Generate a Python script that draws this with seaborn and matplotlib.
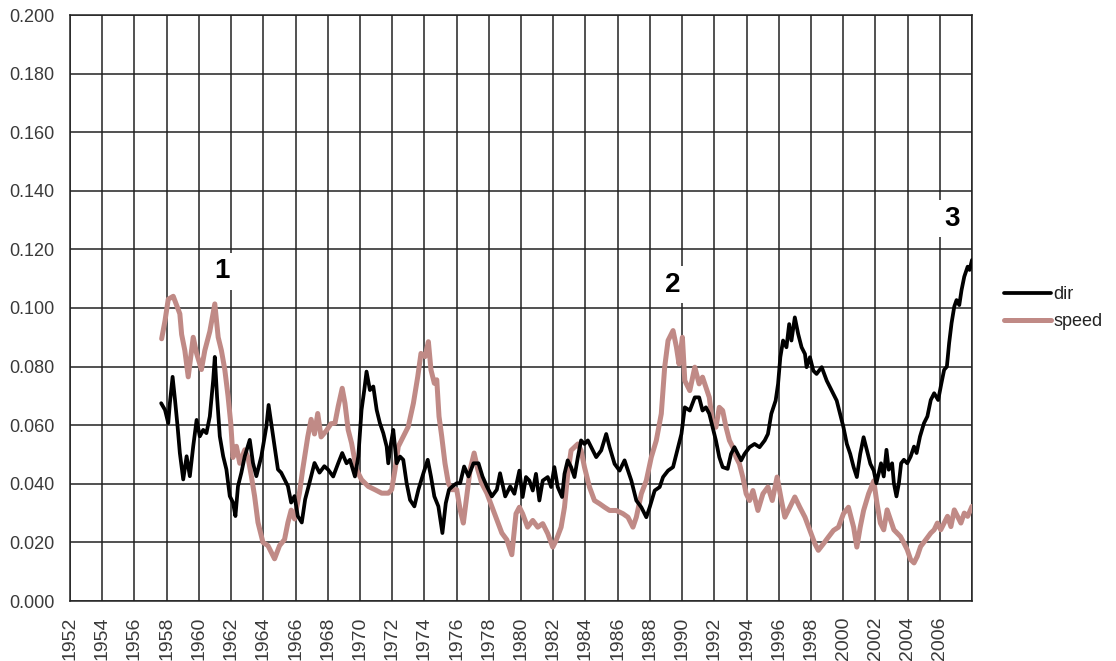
import matplotlib
matplotlib.use("Agg")
import matplotlib.pyplot as plt
import seaborn as sns
import pandas as pd

# dir series (year, value)
dir_years = [
    1957.66, 1957.9, 1958.1, 1958.2, 1958.37, 1958.52, 1958.68, 1958.82, 1959.03, 1959.24,
    1959.44, 1959.65, 1959.86, 1960.06, 1960.27, 1960.47, 1960.68, 1960.89, 1960.99, 1961.13,
    1961.3, 1961.51, 1961.71, 1961.92, 1962.12, 1962.27, 1962.43, 1962.64, 1962.85, 1963.16,
    1963.36, 1963.57, 1963.88, 1964.19, 1964.33, 1964.49, 1964.7, 1964.91, 1965.11, 1965.32,
    1965.53, 1965.73, 1965.94, 1966.14, 1966.39, 1966.6, 1966.87, 1967.18, 1967.49, 1967.79,
    1968.03, 1968.34, 1968.65, 1968.9, 1969.17, 1969.38, 1969.69, 1969.9, 1970.1, 1970.27,
    1970.41, 1970.62, 1970.83, 1971.04, 1971.24, 1971.45, 1971.66, 1971.76, 1971.93, 1972.07,
    1972.28, 1972.49, 1972.69, 1972.9, 1973.11, 1973.38, 1973.63, 1973.94, 1974.21, 1974.41,
    1974.62, 1974.87, 1975.12, 1975.33, 1975.53, 1975.74, 1976.01, 1976.22, 1976.47, 1976.74,
    1977.05, 1977.36, 1977.61, 1977.88, 1978.19, 1978.5, 1978.7, 1979.02, 1979.33,
    1979.59, 1979.9, 1980.1, 1980.31, 1980.52, 1980.73, 1980.93, 1981.14, 1981.35, 1981.66,
    1981.87, 1982.07, 1982.28, 1982.55, 1982.7, 1982.9, 1983.11, 1983.32, 1983.53, 1983.73,
    1983.94, 1984.15, 1984.36, 1984.67, 1984.98, 1985.29, 1985.5, 1985.81, 1986.12, 1986.43,
    1986.64, 1986.85, 1987.16, 1987.47, 1987.78, 1987.99, 1988.3, 1988.61, 1988.82, 1989.13,
    1989.44, 1989.75, 1989.96, 1990.17, 1990.48, 1990.79,
    1991.06, 1991.27, 1991.48, 1991.69, 1991.9, 1992.1, 1992.31, 1992.52, 1992.83, 1993.04,
    1993.25, 1993.46, 1993.67, 1993.88, 1994.19, 1994.5, 1994.81, 1995.13, 1995.33, 1995.54,
    1995.81, 1995.96, 1996.1, 1996.27, 1996.48, 1996.65, 1996.79, 1997.0, 1997.21, 1997.42,
    1997.63, 1997.73, 1997.94, 1998.15, 1998.35, 1998.67, 1998.98, 1999.29, 1999.6, 1999.81,
    2000.02, 2000.23, 2000.44, 2000.65, 2000.85, 2001.06, 2001.27, 2001.48, 2001.69, 2001.9,
    2002.06, 2002.21, 2002.35, 2002.52, 2002.69, 2002.83, 2003.04, 2003.15, 2003.31, 2003.46,
    2003.6, 2003.77, 2003.98, 2004.19, 2004.4, 2004.56, 2004.77, 2005.02, 2005.23, 2005.44,
    2005.65, 2005.9, 2006.1, 2006.27, 2006.44, 2006.58, 2006.73, 2006.9, 2007.04, 2007.21,
    2007.35, 2007.52, 2007.73, 2007.85, 2008.0,
]
dir_values = [
    0.0675, 0.0652, 0.0607, 0.0675, 0.0765, 0.0686, 0.0595, 0.0505, 0.0415, 0.0494,
    0.0426, 0.0528, 0.0618, 0.0562, 0.0584, 0.0573, 0.0630, 0.0754, 0.0833, 0.0697,
    0.0562, 0.0494, 0.0449, 0.0358, 0.0336, 0.0290, 0.0392, 0.0438, 0.0494, 0.0550,
    0.0471, 0.0426, 0.0494, 0.0595, 0.0669, 0.0607, 0.0528, 0.0449, 0.0438, 0.0415,
    0.0392, 0.0336, 0.0358, 0.0290, 0.0268, 0.0347, 0.0404, 0.0471, 0.0438, 0.0460,
    0.0448, 0.0425, 0.0470, 0.0505, 0.0470, 0.0482, 0.0425, 0.0493, 0.0652, 0.0720,
    0.0783, 0.0720, 0.0732, 0.0652, 0.0607, 0.0573, 0.0527, 0.0470, 0.0539, 0.0584,
    0.0470, 0.0493, 0.0482, 0.0402, 0.0345, 0.0323, 0.0380, 0.0436, 0.0482, 0.0425,
    0.0357, 0.0323, 0.0232, 0.0334, 0.0380, 0.0391, 0.0402, 0.0402, 0.0459, 0.0425,
    0.0470, 0.0470, 0.0425, 0.0391, 0.0357, 0.0380, 0.0436, 0.0357, 0.0391,
    0.0366, 0.0445, 0.0355, 0.0423, 0.0411, 0.0377, 0.0434, 0.0343, 0.0411, 0.0423,
    0.0389, 0.0457, 0.0389, 0.0355, 0.0434, 0.0480, 0.0457, 0.0423, 0.0491, 0.0548,
    0.0536, 0.0548, 0.0525, 0.0491, 0.0514, 0.0570, 0.0525, 0.0468, 0.0445, 0.0480,
    0.0445, 0.0411, 0.0343, 0.0320, 0.0286, 0.0320, 0.0377, 0.0389, 0.0423, 0.0445,
    0.0457, 0.0525, 0.0570, 0.0661, 0.0650, 0.0695,
    0.0695, 0.0650, 0.0661, 0.0639, 0.0593, 0.0548, 0.0491, 0.0457, 0.0451, 0.0502,
    0.0525, 0.0502, 0.0480, 0.0502, 0.0525, 0.0536, 0.0525, 0.0548, 0.0570, 0.0639,
    0.0684, 0.0741, 0.0832, 0.0889, 0.0866, 0.0945, 0.0889, 0.0968, 0.0911, 0.0866,
    0.0843, 0.0798, 0.0832, 0.0786, 0.0775, 0.0798, 0.0752, 0.0718, 0.0684, 0.0639,
    0.0593, 0.0536, 0.0502, 0.0457, 0.0423, 0.0502, 0.0559, 0.0514, 0.0468, 0.0445,
    0.0402, 0.0436, 0.0470, 0.0425, 0.0516, 0.0448, 0.0470, 0.0402, 0.0357, 0.0402,
    0.0470, 0.0482, 0.0470, 0.0493, 0.0527, 0.0505, 0.0561, 0.0607, 0.0630, 0.0686,
    0.0709, 0.0686, 0.0743, 0.0789, 0.0800, 0.0880, 0.0948, 0.1005, 0.1027, 0.1010,
    0.1061, 0.1107, 0.1141, 0.1130, 0.1164,
]

# speed series (year, value)
speed_years = [
    1957.69, 1957.9, 1958.1, 1958.41, 1958.82, 1958.93, 1959.13, 1959.34, 1959.65, 1959.86,
    1960.16, 1960.37, 1960.68, 1960.99, 1961.2, 1961.4, 1961.61, 1961.81, 1961.98, 1962.12,
    1962.33, 1962.54, 1962.85, 1963.05, 1963.26, 1963.46, 1963.67, 1963.98, 1964.29, 1964.7,
    1965.01, 1965.32, 1965.53, 1965.73, 1965.94, 1966.25, 1966.45, 1966.76, 1966.97, 1967.18,
    1967.38, 1967.59, 1967.9, 1968.2,
    1968.45, 1968.65, 1968.9, 1969.07, 1969.27, 1969.48, 1969.79, 1970.1, 1970.52, 1970.93,
    1971.35, 1971.76, 1971.97, 1972.18, 1972.38, 1972.69, 1973.0, 1973.32, 1973.59, 1973.79,
    1974.04, 1974.25, 1974.41, 1974.62, 1974.77, 1974.91, 1975.08, 1975.28, 1975.49, 1975.7,
    1976.01, 1976.22, 1976.42, 1976.63, 1976.84, 1977.09, 1977.32, 1977.56, 1977.88, 1978.19,
    1978.5, 1978.81, 1979.12, 1979.43,
    1979.69, 1979.9, 1980.1, 1980.41, 1980.73, 1981.04, 1981.35, 1981.66, 1981.97, 1982.18,
    1982.49, 1982.7, 1982.9, 1983.11, 1983.32, 1983.53, 1983.73, 1983.94, 1984.25, 1984.56,
    1984.88, 1985.19, 1985.5, 1985.91, 1986.33, 1986.64, 1986.95, 1987.16, 1987.47, 1987.78,
    1988.09, 1988.4, 1988.71, 1988.92, 1989.13, 1989.44, 1989.65, 1989.81, 1990.02, 1990.17,
    1990.48, 1990.79,
    1991.06, 1991.27, 1991.48, 1991.69, 1991.9, 1992.1, 1992.31, 1992.52, 1992.73, 1992.94,
    1993.15, 1993.35, 1993.56, 1993.77, 1993.98, 1994.19, 1994.4, 1994.71, 1995.02, 1995.33,
    1995.6, 1995.9, 1996.17, 1996.38, 1996.69, 1997.0, 1997.31, 1997.63, 1997.94, 1998.25,
    1998.46, 1998.77, 1999.08, 1999.4, 1999.71, 2000.02, 2000.33, 2000.65, 2000.85, 2001.06,
    2001.27, 2001.58, 2001.9,
    2002.1, 2002.31, 2002.52, 2002.73, 2002.94, 2003.15, 2003.35, 2003.56, 2003.77, 2003.98,
    2004.19, 2004.4, 2004.6, 2004.81, 2005.13, 2005.44, 2005.65, 2005.85, 2006.06, 2006.27,
    2006.48, 2006.69, 2006.9, 2007.1, 2007.31, 2007.52, 2007.73, 2008.0,
]
speed_values = [
    0.0895, 0.0957, 0.1030, 0.1040, 0.0980, 0.0910, 0.0855, 0.0765, 0.0900, 0.0845,
    0.0790, 0.0855, 0.0920, 0.1014, 0.0900, 0.0855, 0.0790, 0.0700, 0.0607, 0.0490,
    0.0528, 0.0470, 0.0516, 0.0490, 0.0426, 0.0358, 0.0268, 0.0200, 0.0189, 0.0144,
    0.0189, 0.0210, 0.0268, 0.0310, 0.0280, 0.0370, 0.0450, 0.0560, 0.0620, 0.0570,
    0.0640, 0.0560, 0.0580, 0.0605,
    0.0607, 0.0664, 0.0726, 0.0675, 0.0584, 0.0539, 0.0448, 0.0414, 0.0391, 0.0380,
    0.0368, 0.0368, 0.0380, 0.0448, 0.0527, 0.0561, 0.0595, 0.0675, 0.0766, 0.0845,
    0.0834, 0.0885, 0.0789, 0.0743, 0.0755, 0.0630, 0.0561, 0.0470, 0.0402, 0.0380,
    0.0380, 0.0312, 0.0266, 0.0357, 0.0448, 0.0505, 0.0448, 0.0402, 0.0368, 0.0323,
    0.0277, 0.0232, 0.0209, 0.0158,
    0.0298, 0.0320, 0.0298, 0.0252, 0.0275, 0.0252, 0.0264, 0.0230, 0.0184, 0.0207,
    0.0252, 0.0320, 0.0434, 0.0514, 0.0525, 0.0536, 0.0514, 0.0457, 0.0389, 0.0343,
    0.0332, 0.0320, 0.0309, 0.0309, 0.0298, 0.0286, 0.0252, 0.0286, 0.0366, 0.0411,
    0.0491, 0.0548, 0.0639, 0.0798, 0.0889, 0.0923, 0.0866, 0.0809, 0.0900, 0.0752,
    0.0718, 0.0798,
    0.0741, 0.0764, 0.0730, 0.0695, 0.0605, 0.0593, 0.0661, 0.0650, 0.0593, 0.0548,
    0.0525, 0.0491, 0.0468, 0.0423, 0.0366, 0.0343, 0.0377, 0.0309, 0.0366, 0.0389,
    0.0343, 0.0423, 0.0343, 0.0286, 0.0320, 0.0355, 0.0320, 0.0286, 0.0241, 0.0195,
    0.0173, 0.0195, 0.0218, 0.0241, 0.0252, 0.0298, 0.0320, 0.0252, 0.0184, 0.0252,
    0.0309, 0.0366, 0.0410,
    0.0334, 0.0266, 0.0243, 0.0311, 0.0277, 0.0243, 0.0232, 0.0220, 0.0198, 0.0175,
    0.0141, 0.0130, 0.0152, 0.0186, 0.0209, 0.0232, 0.0243, 0.0266, 0.0243, 0.0266,
    0.0289, 0.0254, 0.0311, 0.0289, 0.0266, 0.0300, 0.0289, 0.0323,
]

year_ticks = list(range(1952, 2009, 2))
year_labels = [str(y) for y in year_ticks[:-1]] + [""]
y_ticks = [0.0, 0.02, 0.04, 0.06, 0.08, 0.10, 0.12, 0.14, 0.16, 0.18, 0.20]

notes = ["1", "2", "3"]
note_x = [1961.45, 1989.45, 2006.75]
note_y = [0.1125, 0.1080, 0.1305]

df_dir = pd.DataFrame({"year": dir_years, "value": dir_values})
df_speed = pd.DataFrame({"year": speed_years, "value": speed_values})

sns.set_style("white")
plt.rcParams["font.family"] = ["Liberation Sans", "DejaVu Sans"]

fig = plt.figure(figsize=(11.16, 6.61), dpi=100)
ax = fig.add_axes([70 / 1116, 60 / 661, 902 / 1116, 586 / 661])

sns.lineplot(data=df_dir, x="year", y="value", ax=ax, color="black",
             linewidth=2.7, estimator=None, label="dir", zorder=4)
sns.lineplot(data=df_speed, x="year", y="value", ax=ax, color="#c08a86",
             linewidth=3.6, estimator=None, label="speed", zorder=3)

ax.set_xlim(1952, 2008)
ax.set_ylim(0, 0.2)
ax.set_xticks(year_ticks)
ax.set_xticklabels(year_labels, rotation=90, fontsize=14)
ax.set_yticks(y_ticks)
ax.set_yticklabels([f"{v:.3f}" for v in y_ticks], fontsize=13)
ax.set_xlabel("")
ax.set_ylabel("")

ax.grid(True, color="#222222", linewidth=1.1)
ax.set_axisbelow(True)
for s in ax.spines.values():
    s.set_color("#222222")
    s.set_linewidth(1.1)
ax.tick_params(axis="both", direction="out", length=8, width=1.1,
               color="#222222", pad=3, labelcolor="#3a3a3a")

for t, x, y in zip(notes, note_x, note_y):
    ax.text(x, y, t, fontsize=20, fontweight="bold", ha="center", va="center",
            color="black", zorder=5,
            bbox=dict(facecolor="white", edgecolor="none", pad=4))

leg = ax.legend(loc="center left", bbox_to_anchor=(1.035, 0.5), frameon=False,
                fontsize=13, handlelength=2.6, handletextpad=0.15,
                labelspacing=0.55, borderaxespad=0, borderpad=0)
for txt in leg.get_texts():
    txt.set_color("#222222")

fig.savefig("out.png", dpi=100)
